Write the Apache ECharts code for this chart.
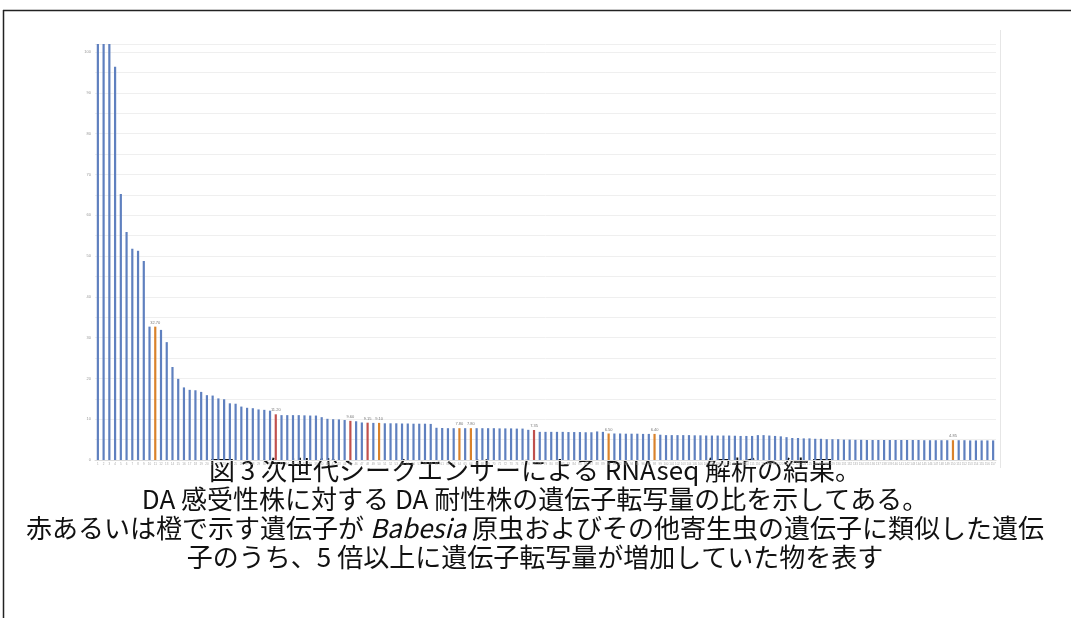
<!DOCTYPE html>
<html><head><meta charset="utf-8">
<script src="https://cdn.jsdelivr.net/npm/echarts@6/dist/echarts.min.js"></script>
<style>html,body{margin:0;padding:0;background:#fff}#c{width:1071px;height:618px}</style>
</head><body><div id="c"></div>
<script>
// ratio of transcript amount (DA resistant / DA sensitive), sorted descending
const values = [
  130, 128, 125, 96.4, 65.2, 55.9, 51.8, 51.3, 48.8, 32.7,
  32.7, 31.9, 28.9, 22.8, 19.9, 17.8, 17.2, 17.1, 16.7, 15.9,
  15.8, 15.1, 14.9, 13.9, 13.8, 13.1, 12.8, 12.7, 12.4, 12.3,
  12.1, 11.2, 11.0, 11.0, 11.0, 11.0, 10.95, 10.9, 10.9, 10.5,
  10.1, 10.0, 9.95, 9.8, 9.6, 9.5, 9.2, 9.15, 9.1, 9.1,
  9.0, 9.0, 9.0, 8.95, 8.95, 8.9, 8.9, 8.9, 8.85, 7.9,
  7.85, 7.8, 7.8, 7.8, 7.8, 7.8, 7.8, 7.8, 7.8, 7.8,
  7.75, 7.75, 7.75, 7.7, 7.7, 7.4, 7.35, 6.9, 6.9, 6.9,
  6.9, 6.9, 6.85, 6.85, 6.85, 6.8, 6.8, 7.0, 6.9, 6.5,
  6.5, 6.5, 6.45, 6.45, 6.45, 6.4, 6.4, 6.4, 6.2, 6.1,
  6.1, 6.1, 6.1, 6.1, 6.05, 6.05, 6.0, 6.0, 6.0, 6.0,
  6.0, 5.95, 5.9, 5.9, 5.9, 6.1, 6.1, 6.0, 5.9, 5.8,
  5.6, 5.4, 5.4, 5.3, 5.3, 5.2, 5.2, 5.1, 5.1, 5.1,
  5.0, 5.0, 4.95, 4.95, 4.9, 4.9, 4.9, 4.9, 4.9, 4.9,
  4.9, 4.9, 4.9, 4.9, 4.85, 4.85, 4.85, 4.85, 4.85, 4.85,
  4.85, 4.85, 4.8, 4.8, 4.8, 4.8, 4.8
];
const categories = values.map((v, i) => String(i + 1));
// genes similar to Babesia / other parasite genes (1-based positions)
const redGenes = [32, 45, 48, 77];
const orangeGenes = [11, 50, 64, 66, 90, 98, 150];
const yTickValues = [0, 10, 20, 30, 40, 50, 60, 70, 80, 90, 100];
const captionLines = [
  '図 3 次世代シークエンサーによる RNAseq 解析の結果。',
  'DA 感受性株に対する DA 耐性株の遺伝子転写量の比を示してある。',
  ['赤あるいは橙で示す遺伝子が ', 'Babesia', ' 原虫およびその他寄生虫の遺伝子に類似した遺伝'],
  '子のうち、5 倍以上に遺伝子転写量が増加していた物を表す'
];

const BLUE = '#5f80bf', RED = '#c0504d', ORANGE = '#d9822b';
const data = values.map((v, i) => {
  const n = i + 1;
  let c = BLUE, lab = false;
  if (redGenes.includes(n)) { c = RED; lab = true; }
  if (orangeGenes.includes(n)) { c = ORANGE; lab = true; }
  return {
    value: v,
    itemStyle: { color: c },
    label: { show: lab }
  };
});

const chart = echarts.init(document.getElementById('c'));
const capFont = '"Noto Sans CJK JP", sans-serif';
const capSize = 26;
const capY = [470, 499, 528, 557];
const graphic = [
  { type: 'line', shape: { x1: 3, y1: 10.5, x2: 1071, y2: 10.5 }, style: { stroke: '#222', lineWidth: 1.5 } },
  { type: 'line', shape: { x1: 3.5, y1: 10, x2: 3.5, y2: 618 }, style: { stroke: '#222', lineWidth: 1.5 } },
  { type: 'line', shape: { x1: 1000.5, y1: 30, x2: 1000.5, y2: 468 }, style: { stroke: '#e6e6e6', lineWidth: 1 } }
];
captionLines.forEach((ln, k) => {
  let text, rich;
  if (Array.isArray(ln)) {
    text = '{n|' + ln[0] + '}{i|' + ln[1] + '}{n|' + ln[2] + '}';
    rich = {
      n: { fontSize: capSize, fontFamily: capFont, fill: '#111' },
      i: { fontSize: capSize, fontFamily: capFont, fontStyle: 'italic', fill: '#111' }
    };
  } else {
    text = ln;
  }
  graphic.push({
    type: 'text', x: 535, y: capY[k],
    style: Object.assign({
      text: text, fontSize: capSize, fontFamily: capFont, fill: '#111',
      align: 'center', verticalAlign: 'middle'
    }, rich ? { rich: rich } : {})
  });
});

chart.setOption({
  animation: false,
  backgroundColor: '#fff',
  grid: { left: 95, right: 75, top: 44, bottom: 158 },
  xAxis: {
    type: 'category', data: categories,
    axisLine: { show: true, lineStyle: { color: '#dcdcdc' } },
    axisTick: { show: false },
    axisLabel: { interval: 0, fontSize: 3, color: '#aaa', margin: 3 }
  },
  yAxis: {
    type: 'value', min: 0, max: 102, interval: 5,
    axisLine: { show: false }, axisTick: { show: false },
    axisLabel: {
      fontSize: 4, color: '#999', margin: 4,
      formatter: v => (yTickValues.includes(v) ? String(v) : '')
    },
    splitLine: { lineStyle: { color: '#efefef', width: 1 } }
  },
  series: [{
    type: 'bar', data: data, barWidth: 2.2, clip: true,
    label: {
      position: 'top', distance: 2, fontSize: 4, color: '#777',
      formatter: p => p.value.toFixed(2)
    }
  }],
  graphic: graphic
});
</script></body></html>
